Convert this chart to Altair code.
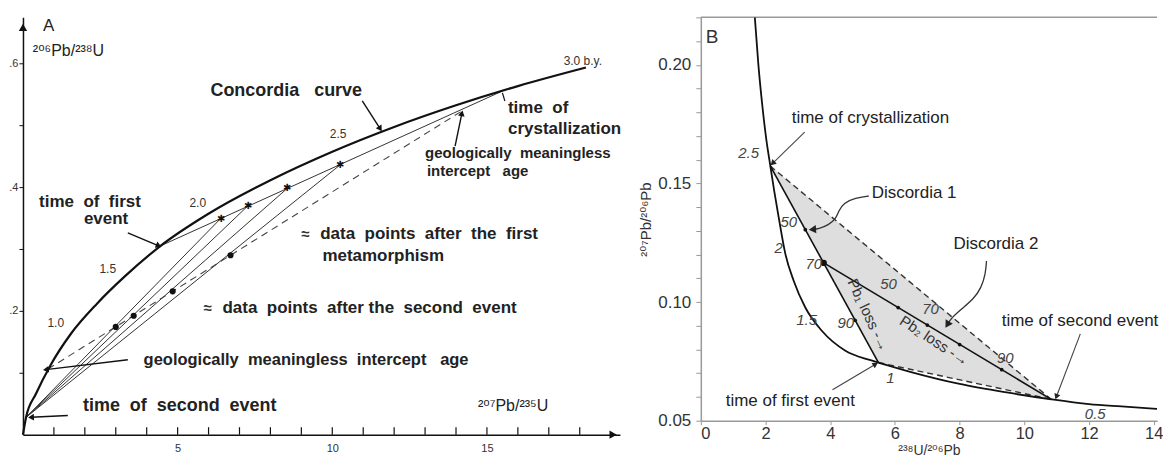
import math
import altair as alt
import pandas as pd

FONT = "Liberation Sans, DejaVu Sans, sans-serif"
SP = " \u00a0"  # widened word gap used in panel A lettering

# ---------------- Panel A : 207Pb/235U (x) vs 206Pb/238U (y) ----------------
a_conc_x = [0, 0.1, 0.42, 0.9, 1.55, 2.4, 3.3, 4.45, 5.97, 8.0, 10.0, 12.0, 14.0, 16.0, 18.2]
a_conc_y = [0, 0.028, 0.066, 0.113, 0.163, 0.212, 0.256, 0.305, 0.356, 0.411, 0.457, 0.497, 0.532, 0.563, 0.593]
a_cryst = [15.5, 0.555]
a_first = [4.45, 0.305]
a_second = [0.1, 0.028]
a_meta_x = [6.39, 7.26, 8.55, 10.26]          # data points after first metamorphism
a_meta_y = [0.349, 0.369, 0.398, 0.436]
a_after_x = [3.0, 3.58, 4.84, 6.71]           # data points after second event
a_after_y = [0.174, 0.192, 0.2315, 0.2897]
a_dash_x = [0.81, 14.2]                       # meaningless-intercept line
a_dash_y = [0.106, 0.523]
a_xtick_vals = list(range(1, 19))
a_xlabel_vals = [5, 10, 15]
a_ytick_vals = [0.1, 0.2, 0.3, 0.4, 0.5, 0.6]

a_age_text = ["1.0", "1.5", "2.0", "2.5", "3.0 b.y."]
a_age_x = [1.06, 2.74, 5.65, 10.19, 18.1]
a_age_y = [0.181, 0.268, 0.374, 0.485, 0.603]

a_note_text = ["Concordia" + SP + " curve", "time" + SP + "of" + SP + "first", "event",
               "time" + SP + "of", "crystallization",
               "geologically" + SP + "meaningless", "intercept" + SP + " age",
               "data" + SP + "points" + SP + "after" + SP + "the" + SP + "first", "metamorphism",
               "data" + SP + "points" + SP + "after the" + SP + "second" + SP + "event",
               "geologically" + SP + "meaningless" + SP + "intercept" + SP + " age",
               "time" + SP + "of" + SP + "second" + SP + "event"]
a_note_x = [6.06, 0.52, 1.97, 15.68, 15.68, 13.0, 13.06, 9.61, 9.68, 6.45, 3.9, 1.94]
a_note_y = [0.555, 0.376, 0.348, 0.527, 0.494, 0.455, 0.426, 0.324, 0.289, 0.205, 0.121, 0.047]
a_note_size = [18, 17, 17, 17, 17, 15, 15, 17, 17, 17, 16.5, 18]

a_sym_x = [9.13, 5.97]
a_sym_y = [0.324, 0.205]

a_arrow_x1 = [10.97, 3.39, 13.97, 3.39, 1.45]
a_arrow_y1 = [0.539, 0.326, 0.466, 0.121, 0.031]
a_arrow_x2 = [11.55, 4.39, 14.19, 0.74, 0.26]
a_arrow_y2 = [0.494, 0.305, 0.519, 0.105, 0.028]

# ---------------- Panel B : 238U/206Pb (x) vs 207Pb/206Pb (y) ----------------
b_conc_x = [1.67, 1.78, 1.9, 2.02, 2.15, 2.27, 2.41, 2.61, 2.87, 3.23, 3.74, 4.47, 5.19, 5.49,
            6.5, 8.0, 9.5, 10.83, 12.0, 13.0, 14.1]
b_conc_y = [0.22, 0.20, 0.183, 0.169, 0.1573, 0.1468, 0.1355, 0.1205, 0.109, 0.0977, 0.0879,
            0.0795, 0.0757, 0.0745, 0.0705, 0.0655, 0.0618, 0.059, 0.057, 0.056, 0.055]
b_cryst = [2.15, 0.1573]
b_first = [5.49, 0.0745]
b_second = [10.83, 0.059]
b_d2_start = [3.8, 0.1165]
b_fill_x = [2.15, 5.49, 10.83]
b_fill_upper = [0.1573, 0.1195, 0.059]
b_fill_lower = [0.1573, 0.0745, 0.059]
b_dot_x = [3.23, 4.77, 6.1, 7.0, 8.0, 9.3]
b_dot_y = [0.1305, 0.0923, 0.0977, 0.0903, 0.0821, 0.0715]

b_num_text = ["2.5", "50", "2", "70", "1.5", "90", "1", "50", "70", "90", "0.5"]
b_num_x = [1.48, 2.72, 2.41, 3.49, 3.27, 4.48, 5.86, 5.8, 7.1, 9.41, 12.19]
b_num_y = [0.1628, 0.1338, 0.1228, 0.116, 0.0925, 0.0912, 0.0681, 0.1077, 0.0971, 0.0765, 0.0529]

b_note_text = ["time of crystallization", "Discordia 1", "Discordia 2", "time of second event", "time of first event"]
b_note_x = [2.81, 5.28, 7.81, 9.3, 0.77]
b_note_y = [0.1775, 0.146, 0.1245, 0.0921, 0.0584]

b_loss_text = ["Pb\u2081 loss -\u2192", "Pb\u2082 loss -\u2192"]
b_loss_x = [5.18, 7.22]
b_loss_y = [0.0945, 0.0837]
b_loss_angle = [65, 33]

b_arrow_x1 = [3.21, 11.73, 4.07]
b_arrow_y1 = [0.1716, 0.0866, 0.063]
b_arrow_x2 = [2.22, 10.99, 5.4]
b_arrow_y2 = [0.1585, 0.0601, 0.0738]

b_curve1_x = [5.19, 4.78, 4.41, 4.26, 4.17, 3.95, 3.64, 3.45]
b_curve1_y = [0.1447, 0.1439, 0.1418, 0.1384, 0.135, 0.1325, 0.1308, 0.1306]
b_curve2_x = [8.83, 8.8, 8.67, 8.43, 8.06, 7.75, 7.62]
b_curve2_y = [0.1173, 0.1119, 0.106, 0.1013, 0.0971, 0.0934, 0.0905]

b_ytick_vals = [0.05, 0.06, 0.07, 0.08, 0.09, 0.10, 0.11, 0.12, 0.13, 0.14, 0.15,
                0.16, 0.17, 0.18, 0.19, 0.20, 0.21, 0.22]
b_xtick_vals = [0, 2, 4, 6, 8, 10, 12, 14]

# ---------------- geometry of the two panels ----------------
A_W, A_H = 598, 418
A_XD, A_YD = [0, 19.3], [0, 0.674]
B_W, B_H = 457, 404
B_XD, B_YD = [0, 14.1], [0.05, 0.22]
A_SX, A_SY = A_W / (A_XD[1] - A_XD[0]), A_H / (A_YD[1] - A_YD[0])
B_SX, B_SY = B_W / (B_XD[1] - B_XD[0]), B_H / (B_YD[1] - B_YD[0])


def head_angle(x1, y1, x2, y2, sx, sy):
    a = math.degrees(math.atan2((x2 - x1) * sx, (y2 - y1) * sy))
    return a % 360


A_XAXIS = alt.Axis(values=a_xlabel_vals, ticks=False, labelPadding=8, labelFontSize=11,
                   labelColor="#333", domainColor="#111", domainWidth=1.5, grid=False,
                   title=None, format="d")
A_YAXIS = alt.Axis(values=a_ytick_vals, tickSize=4, labelPadding=1, labelFontSize=11,
                   labelColor="#333", domainColor="#111", domainWidth=1.5, tickColor="#111",
                   grid=False, title=None,
                   labelExpr="round(datum.value*10) % 2 == 0 ? '.' + round(datum.value*10) : ''")
B_XAXIS = alt.Axis(values=b_xtick_vals, format="d", tickSize=4, labelPadding=1, labelFontSize=16.5,
                   labelColor="#333", title="\u00b2\u00b3\u2078U/\u00b2\u2070\u2076Pb", titleFontSize=14,
                   titleFontWeight="normal", titlePadding=1, titleColor="#333",
                   domainColor="#999", tickColor="#999", domainWidth=1.5, grid=False)
B_YAXIS = alt.Axis(values=b_ytick_vals, tickSize=5, labelPadding=5, labelFontSize=17,
                   labelColor="#333", title="\u00b2\u2070\u2077Pb/\u00b2\u2070\u2076Pb", titleFontSize=15,
                   titleFontWeight="normal", titlePadding=4, titleColor="#333",
                   domainColor="#999", tickColor="#999", domainWidth=1.5, grid=False,
                   labelExpr="round(datum.value*100) % 5 == 0 ? format(datum.value, '.2f') : ''")


def AX(f="x"):
    return alt.X(f"{f}:Q", scale=alt.Scale(domain=A_XD, nice=False, zero=False), axis=A_XAXIS)


def AY(f="y"):
    return alt.Y(f"{f}:Q", scale=alt.Scale(domain=A_YD, nice=False, zero=False), axis=A_YAXIS)


def BX(f="x"):
    return alt.X(f"{f}:Q", scale=alt.Scale(domain=B_XD, nice=False, zero=False), axis=B_XAXIS)


def BY(f="y"):
    return alt.Y(f"{f}:Q", scale=alt.Scale(domain=B_YD, nice=False, zero=False), axis=B_YAXIS)


# ---------------- Panel A layers ----------------
a_conc = pd.DataFrame({"x": a_conc_x, "y": a_conc_y, "o": range(len(a_conc_x))})
a_conc_layer = alt.Chart(a_conc).mark_line(color="#111", strokeWidth=2.2, interpolate="monotone").encode(
    x=AX(), y=AY(), order="o:Q")

seg_rows = []
def add_seg(rows, name, p, q):
    rows.append({"seg": name, "x": p[0], "y": p[1], "o": 0})
    rows.append({"seg": name, "x": q[0], "y": q[1], "o": 1})

add_seg(seg_rows, "disc1", a_first, a_cryst)
for i, (mx, my) in enumerate(zip(a_meta_x, a_meta_y)):
    add_seg(seg_rows, f"chord{i}", a_second, [mx, my])
a_thin = alt.Chart(pd.DataFrame(seg_rows)).mark_line(color="#333", strokeWidth=1).encode(
    x=AX(), y=AY(), detail="seg:N", order="o:Q")

a_dash = alt.Chart(pd.DataFrame({"x": a_dash_x, "y": a_dash_y})).mark_line(
    color="#444", strokeWidth=1.1, strokeDash=[7, 5]).encode(x=AX(), y=AY())

a_ticks = alt.Chart(pd.DataFrame({"x": a_xtick_vals, "y": [0] * len(a_xtick_vals),
                                  "y2": [0.012] * len(a_xtick_vals)})).mark_rule(
    color="#111", strokeWidth=1.2).encode(x=AX(), y=AY(), y2=alt.Y2("y2:Q"))

a_axis_heads = alt.Chart(pd.DataFrame({"x": [A_XD[1] - 0.22, 0], "y": [0, A_YD[1] - 0.016],
                                       "shape": ["triangle-right", "triangle-up"]})).mark_point(
    filled=True, color="#111", size=70, opacity=1).encode(
    x=AX(), y=AY(), shape=alt.Shape("shape:N", scale=None))

a_meta = alt.Chart(pd.DataFrame({"x": a_meta_x, "y": a_meta_y})).mark_text(
    text="\u2731", fontSize=10, color="#111").encode(x=AX(), y=AY())
a_after = alt.Chart(pd.DataFrame({"x": a_after_x, "y": a_after_y})).mark_point(
    filled=True, color="#111", size=38, opacity=1).encode(x=AX(), y=AY())

a_ages = alt.Chart(pd.DataFrame({"x": a_age_x, "y": a_age_y, "t": a_age_text})).mark_text(
    font=FONT, fontSize=12, color="#333", baseline="middle").encode(x=AX(), y=AY(), text="t:N")

a_notes = alt.Chart(pd.DataFrame({"x": a_note_x, "y": a_note_y, "t": a_note_text,
                                  "s": a_note_size})).mark_text(
    font=FONT, fontWeight="bold", color="#222", align="left", baseline="middle").encode(
    x=AX(), y=AY(), text="t:N", size=alt.Size("s:Q", scale=None, legend=None))

a_syms = alt.Chart(pd.DataFrame({"x": a_sym_x, "y": a_sym_y})).mark_text(
    text="\u2248", font=FONT, fontSize=15, fontWeight="bold", color="#333").encode(x=AX(), y=AY())

a_labels = alt.Chart(pd.DataFrame({
    "x": [0.65, 0.32, 14.71], "y": [0.66, 0.619, 0.047],
    "t": ["A", "\u00b2\u2070\u2076Pb/\u00b2\u00b3\u2078U", "\u00b2\u2070\u2077Pb/\u00b2\u00b3\u2075U"],
    "s": [17, 16, 16]})).mark_text(font=FONT, color="#222", align="left", baseline="middle").encode(
    x=AX(), y=AY(), text="t:N", size=alt.Size("s:Q", scale=None, legend=None))

a_arr = pd.DataFrame({"x": a_arrow_x1, "y": a_arrow_y1, "x2": a_arrow_x2, "y2": a_arrow_y2})
a_arr["ang"] = [head_angle(r.x, r.y, r.x2, r.y2, A_SX, A_SY) for r in a_arr.itertuples()]
a_arrow_lines = alt.Chart(a_arr).mark_rule(color="#111", strokeWidth=1.4).encode(
    x=AX(), y=AY(), x2=alt.X2("x2:Q"), y2=alt.Y2("y2:Q"))
a_arrow_heads = alt.Chart(a_arr).mark_point(shape="triangle-up", filled=True, color="#111",
                                            size=45, opacity=1).encode(
    x=AX("x2"), y=AY("y2"), angle=alt.Angle("ang:Q", scale=None))

a_cryst_tick = alt.Chart(pd.DataFrame({"x": [a_cryst[0]], "y": [a_cryst[1] - 0.003],
                                       "x2": [a_cryst[0] + 0.08], "y2": [a_cryst[1] - 0.016]})).mark_rule(
    color="#111", strokeWidth=1.2).encode(x=AX(), y=AY(), x2=alt.X2("x2:Q"), y2=alt.Y2("y2:Q"))

panel_a = alt.layer(a_dash, a_thin, a_conc_layer, a_ticks, a_axis_heads, a_meta, a_after,
                    a_ages, a_notes, a_syms, a_labels, a_arrow_lines, a_arrow_heads,
                    a_cryst_tick).properties(width=A_W, height=A_H)

# ---------------- Panel B layers ----------------
b_fill = alt.Chart(pd.DataFrame({"x": b_fill_x, "y": b_fill_upper, "y2": b_fill_lower})).mark_area(
    color="#dedede", opacity=1).encode(x=BX(), y=BY(), y2=alt.Y2("y2:Q"))

b_top = alt.Chart(pd.DataFrame({"y": [B_YD[1]]})).mark_rule(color="#999", strokeWidth=1.5).encode(y=BY())

b_conc = alt.Chart(pd.DataFrame({"x": b_conc_x, "y": b_conc_y})).mark_line(
    color="#111", strokeWidth=1.8, interpolate="monotone", clip=True).encode(x=BX(), y=BY())

b_solid_rows = []
add_seg(b_solid_rows, "d1", b_cryst, b_first)
add_seg(b_solid_rows, "d2", b_d2_start, b_second)
b_solid = alt.Chart(pd.DataFrame(b_solid_rows)).mark_line(color="#111", strokeWidth=1.6).encode(
    x=BX(), y=BY(), detail="seg:N", order="o:Q")

b_dash_rows = []
add_seg(b_dash_rows, "up", b_cryst, b_second)
add_seg(b_dash_rows, "lo", b_first, b_second)
b_dash = alt.Chart(pd.DataFrame(b_dash_rows)).mark_line(
    color="#333", strokeWidth=1.4, strokeDash=[6, 4]).encode(x=BX(), y=BY(), detail="seg:N", order="o:Q")

b_dots = alt.Chart(pd.DataFrame({"x": b_dot_x, "y": b_dot_y})).mark_point(
    filled=True, color="#111", size=14, opacity=1).encode(x=BX(), y=BY())
b_bigdot = alt.Chart(pd.DataFrame({"x": [b_d2_start[0]], "y": [b_d2_start[1]]})).mark_point(
    filled=True, color="#111", size=40, opacity=1).encode(x=BX(), y=BY())

b_nums = alt.Chart(pd.DataFrame({"x": b_num_x, "y": b_num_y, "t": b_num_text})).mark_text(
    font=FONT, fontSize=15, fontStyle="italic", color="#444", baseline="middle").encode(
    x=BX(), y=BY(), text="t:N")

b_notes = alt.Chart(pd.DataFrame({"x": b_note_x, "y": b_note_y, "t": b_note_text})).mark_text(
    font=FONT, fontSize=17, color="#222", align="left", baseline="middle").encode(
    x=BX(), y=BY(), text="t:N")

b_letter = alt.Chart(pd.DataFrame({"x": [0.15], "y": [0.2118], "t": ["B"]})).mark_text(
    font=FONT, fontSize=19, color="#333", align="left", baseline="middle").encode(
    x=BX(), y=BY(), text="t:N")

b_loss_layers = []
for t, x, y, ang in zip(b_loss_text, b_loss_x, b_loss_y, b_loss_angle):
    b_loss_layers.append(alt.Chart(pd.DataFrame({"x": [x], "y": [y], "t": [t]})).mark_text(
        font=FONT, fontSize=15, color="#333", angle=ang, baseline="middle").encode(
        x=BX(), y=BY(), text="t:N"))

b_arr = pd.DataFrame({"x": b_arrow_x1, "y": b_arrow_y1, "x2": b_arrow_x2, "y2": b_arrow_y2})
b_arr["ang"] = [head_angle(r.x, r.y, r.x2, r.y2, B_SX, B_SY) for r in b_arr.itertuples()]
b_arrow_lines = alt.Chart(b_arr).mark_rule(color="#444", strokeWidth=1.1).encode(
    x=BX(), y=BY(), x2=alt.X2("x2:Q"), y2=alt.Y2("y2:Q"))

curve_rows = []
for name, xs, ys in [("c1", b_curve1_x, b_curve1_y), ("c2", b_curve2_x, b_curve2_y)]:
    for i, (x, y) in enumerate(zip(xs, ys)):
        curve_rows.append({"seg": name, "x": x, "y": y, "o": i})
b_curves = alt.Chart(pd.DataFrame(curve_rows)).mark_line(
    color="#333", strokeWidth=1.3, interpolate="basis").encode(
    x=BX(), y=BY(), detail="seg:N", order="o:Q")

heads_b = pd.DataFrame({
    "x": b_arrow_x2 + [b_curve1_x[-1], b_curve2_x[-1]],
    "y": b_arrow_y2 + [b_curve1_y[-1], b_curve2_y[-1]],
    "ang": list(b_arr["ang"]) + [
        head_angle(b_curve1_x[-2], b_curve1_y[-2], b_curve1_x[-1], b_curve1_y[-1], B_SX, B_SY),
        head_angle(b_curve2_x[-2], b_curve2_y[-2], b_curve2_x[-1], b_curve2_y[-1], B_SX, B_SY)],
    "s": [40, 40, 40, 70, 70]})
b_heads = alt.Chart(heads_b).mark_point(shape="triangle-up", filled=True, color="#222",
                                        opacity=1).encode(
    x=BX(), y=BY(), angle=alt.Angle("ang:Q", scale=None),
    size=alt.Size("s:Q", scale=None, legend=None))

panel_b = alt.layer(b_fill, b_top, b_dash, b_conc, b_solid, b_dots, b_bigdot, b_curves,
                    b_arrow_lines, b_heads, b_nums, b_notes, b_letter,
                    *b_loss_layers).properties(width=B_W, height=B_H)

chart = alt.hconcat(panel_a, panel_b, spacing=16).properties(
    padding={"left": 0, "top": 8, "right": 0, "bottom": 0}
).configure_view(stroke=None).configure_axis(labelFont=FONT, titleFont=FONT)

chart.save("out.html", embed_options={"renderer": "svg", "actions": False})
